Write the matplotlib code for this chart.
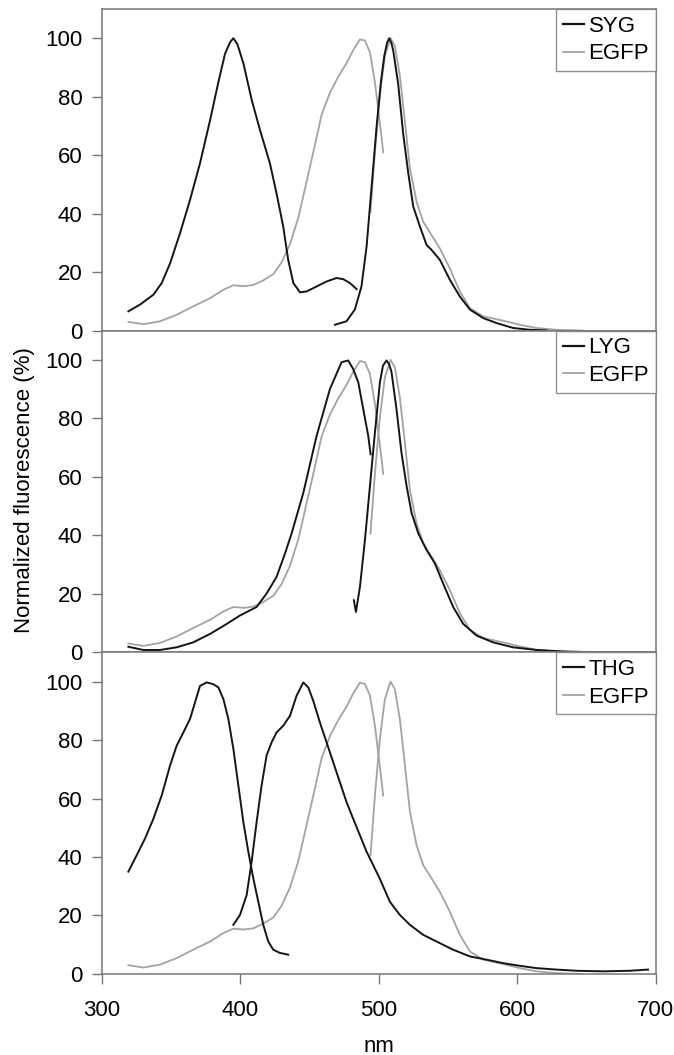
import matplotlib
matplotlib.use("Agg")
import matplotlib.pyplot as plt
from matplotlib.lines import Line2D

plt.rcParams['font.family'] = ['Liberation Sans', 'DejaVu Sans']

# ---------------- data (wavelength nm, normalized %) ----------------
EGFP_ex_nm = [319.2, 330, 342, 354, 366, 378.2, 387.8, 395, 402.2, 409.4, 416.6, 423.8,
              429.8, 435.9, 441.9, 447.9, 453.9, 458.7, 464.7, 470.7, 476.8, 481.6, 486.4,
              490, 493.6, 497.2, 500, 502, 503.2]
EGFP_ex = [3.0, 2.2, 3.2, 5.4, 8.3, 11.1, 14, 15.5, 15.2, 15.6, 17.2, 19.3,
           23.3, 29.6, 38.6, 51, 63.5, 73.8, 81.3, 86.8, 91.5, 96, 99.6,
           99.2, 95.2, 85, 74, 66, 61]

EGFP_em_nm = [494, 497.2, 500.8, 504.4, 508.5, 511.6, 515.2, 518.9, 522.5, 527.3, 532.1,
              538.1, 544.1, 551.3, 558.5, 565.8, 575.4, 589.8, 601.8, 613.8, 628.3, 647.5]
EGFP_em = [40.6, 61, 80.4, 94, 100, 97.4, 87.2, 71.3, 55.4, 44, 37.2,
           32.7, 28.1, 21.3, 13.4, 7.7, 4.9, 3.4, 2.0, 0.9, 0.3, 0.0]

SYG_ex_nm = [319.2, 327.6, 337.3, 343.3, 349.3, 356.5, 363.7, 370.9, 378.2, 384.2, 389,
             392.6, 395, 397.9, 402.3, 408.3, 414.3, 421.4, 426.2, 431, 434.6, 438.3,
             443.1, 447.9, 455.1, 462.3, 469.5, 474.3, 479.1, 484]
SYG_ex = [6.6, 8.9, 12.3, 16.3, 23, 33.3, 44.7, 57.2, 72, 85, 94.7,
          98.6, 100, 98, 91.3, 78.8, 68.5, 57.2, 46.9, 35.6, 24.2, 16.3,
          13.1, 13.4, 15.1, 16.8, 18, 17.6, 16.3, 14.2]

SYG_em_nm = [468.3, 476.7, 482.7, 487.5, 491.2, 494.8, 498.4, 501.5, 504, 506, 507.5, 509,
             510.4, 514, 517.6, 521.3, 524.9, 529.7, 534.5, 538.1, 544.1, 551.3, 558.5,
             565.8, 575.4, 585, 597, 609, 621]
SYG_em = [2.0, 3.2, 7.2, 15.1, 28.8, 49.2, 69.7, 85, 94, 98.5, 100, 98.5,
          95.8, 84.4, 67.4, 53.8, 42.4, 35.6, 29.3, 27.6, 24.2, 17.4, 11.7,
          7.2, 4.3, 2.6, 0.9, 0.3, 0.1]

LYG_ex_nm = [319.2, 330, 342, 354, 366, 378.2, 390.2, 399.8, 411.8, 419, 426.2, 432.3,
             437.1, 445.5, 455.1, 464.7, 473.1, 477.9, 481.5, 485.2, 488.8, 492.4, 494.1]
LYG_ex = [1.9, 0.8, 0.8, 1.7, 3.4, 6.3, 9.7, 12.6, 15.5, 20.1, 25.8, 33.8,
          40.7, 54.5, 74, 90, 99.2, 99.8, 96.9, 92.3, 83.1, 74, 67.7]

LYG_em_nm = [482, 483.5, 486.4, 490, 493.6, 497.2, 500.8, 503, 505.6, 507.5, 509.2, 512.8,
             516.4, 520.1, 523.7, 528.5, 534.5, 540.5, 546.5, 553.7, 561, 570.6, 582.6,
             597, 613.8, 633.1, 657.1]
LYG_em = [17.8, 13.8, 22.4, 38.4, 56.8, 75.1, 92.3, 98, 99.8, 98.5, 95.8, 83.1,
          68.2, 56.8, 47.6, 40.7, 35, 30.4, 23.5, 15.5, 9.7, 5.7, 3.4,
          1.7, 0.8, 0.3, 0.0]

THG_ex_nm = [319.2, 325.2, 331.2, 337.3, 343.3, 349.3, 354.1, 358.9, 363.7, 367.3, 370.9,
             375.7, 380.5, 384.2, 387.8, 391.4, 395, 398.6, 402.2, 405.8, 409.4, 413,
             416.6, 420.2, 423.8, 428.6, 434.6]
THG_ex = [35, 40.6, 46.3, 53.1, 61.1, 71.3, 78.1, 82.6, 87.2, 92.8, 98.5,
          99.7, 99.1, 98, 94, 87.2, 77, 64.5, 52, 41.8, 32.7, 24.7,
          16.8, 11.1, 8.3, 7.2, 6.6]

THG_em_nm = [395, 399.8, 404.6, 408.2, 411.8, 415.4, 419, 422.6, 426.2, 431, 435.9, 440.6,
             445.5, 449.1, 452.7, 457.5, 462.3, 467.1, 471.9, 476.7, 481.5, 486.4, 491.2,
             496, 500.8, 508, 515.2, 522.5, 532, 541.7, 553.7, 565.8, 577.8, 589.8,
             601.8, 613.8, 628.3, 642.7, 662, 681.2, 694.4]
THG_em = [16.8, 20.2, 27, 38.4, 52, 64.5, 74.7, 79.2, 82.6, 84.9, 88.3, 95.1,
          99.7, 98, 93.4, 86, 79.2, 72.4, 65.6, 58.8, 53.1, 47.4, 41.8,
          37.2, 32.5, 24.7, 20.2, 16.8, 13.4, 11.1, 8.3, 6, 4.9, 3.7,
          2.8, 2.0, 1.5, 1.1, 0.9, 1.1, 1.5]

panel_names = ["SYG", "LYG", "THG"]
probe_ex = [(SYG_ex_nm, SYG_ex), (LYG_ex_nm, LYG_ex), (THG_ex_nm, THG_ex)]
probe_em = [(SYG_em_nm, SYG_em), (LYG_em_nm, LYG_em), (THG_em_nm, THG_em)]
x_ticks = [300, 400, 500, 600, 700]
y_ticks = [0, 20, 40, 60, 80, 100]

# ---------------- figure ----------------
BLACK = "#151515"
GRAY = "#a3a3a3"
SPINE = "#777777"
FS = 16

fig = plt.figure(figsize=(6.74, 10.55), dpi=100)
gs = fig.add_gridspec(3, 1, left=0.151, right=0.973, top=0.9915, bottom=0.0768, hspace=0)
axes = [fig.add_subplot(gs[i]) for i in range(3)]

for i, ax in enumerate(axes):
    exn, exv = probe_ex[i]
    emn, emv = probe_em[i]
    ax.plot(EGFP_ex_nm, EGFP_ex, color=GRAY, lw=1.3)
    ax.plot(EGFP_em_nm, EGFP_em, color=GRAY, lw=1.3)
    ax.plot(exn, exv, color=BLACK, lw=1.4)
    ax.plot(emn, emv, color=BLACK, lw=1.4)
    ax.set_xlim(300, 700)
    ax.set_ylim(0, 110)
    ax.set_yticks(y_ticks)
    ax.tick_params(axis='y', direction='out', length=7, width=1, color=SPINE,
                   labelsize=FS, pad=7)
    for sp in ax.spines.values():
        sp.set_color(SPINE)
        sp.set_linewidth(1.1)
    if i < 2:
        ax.set_xticks([])
    else:
        ax.set_xticks(x_ticks)
        ax.tick_params(axis='x', direction='out', length=7, width=1, color=SPINE,
                       labelsize=FS, pad=12)
    handles = [Line2D([], [], color=BLACK, lw=1.6), Line2D([], [], color=GRAY, lw=1.3)]
    leg = ax.legend(handles, [panel_names[i], "EGFP"], loc="upper right",
                    bbox_to_anchor=(1.0, 1.0), borderaxespad=0, fontsize=FS,
                    frameon=True, fancybox=False, handlelength=0.95,
                    handletextpad=0.2, borderpad=0.3, labelspacing=0.3)
    leg.get_frame().set_edgecolor(SPINE)
    leg.get_frame().set_linewidth(1.0)

fig.text(0.036, 1 - 490 / 1055, "Normalized fluorescence (%)", fontsize=FS,
         rotation=90, ha="center", va="center")
fig.text(0.5623, 0.003, "nm", fontsize=FS, ha="center", va="baseline")

fig.savefig("out.png", dpi=100)
